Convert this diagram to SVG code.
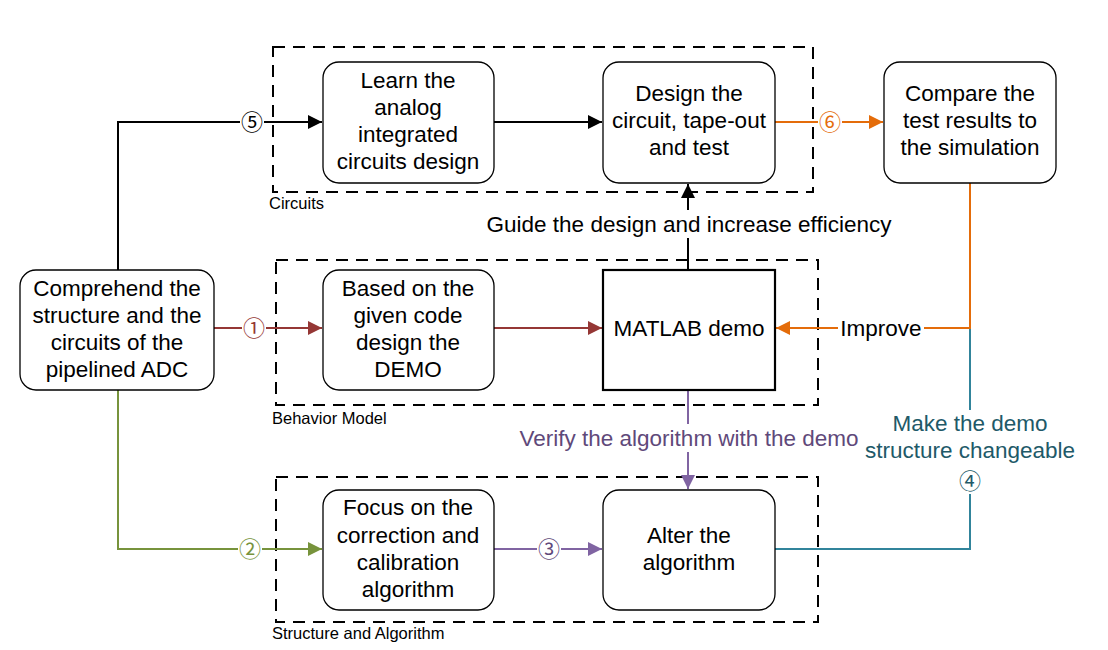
<svg xmlns="http://www.w3.org/2000/svg" width="1108" height="650" viewBox="0 0 1108 650">
<style>
text{font-family:"Liberation Sans",Arial,sans-serif;font-size:22.5px;fill:#000;text-anchor:middle}
.node{fill:#fff;stroke:#000;stroke-width:1.3}
.grp{fill:none;stroke:#000;stroke-width:2;stroke-dasharray:12 8}
.small{font-size:16.5px;text-anchor:start}
.num{font-family:"Noto Sans CJK SC","DejaVu Sans",sans-serif;font-size:22px}
.ln{fill:none;stroke-width:2}
.bg{fill:#fff;stroke:none}
</style>
<defs>
<marker id="aK" viewBox="0 0 10 10" refX="10" refY="5" markerWidth="14" markerHeight="14" markerUnits="userSpaceOnUse" orient="auto"><path d="M0,0L10,5L0,10z" fill="#000"/></marker>
<marker id="aR" viewBox="0 0 10 10" refX="10" refY="5" markerWidth="14" markerHeight="14" markerUnits="userSpaceOnUse" orient="auto"><path d="M0,0L10,5L0,10z" fill="#953735"/></marker>
<marker id="aO" viewBox="0 0 10 10" refX="10" refY="5" markerWidth="14" markerHeight="14" markerUnits="userSpaceOnUse" orient="auto"><path d="M0,0L10,5L0,10z" fill="#E46C0A"/></marker>
<marker id="aG" viewBox="0 0 10 10" refX="10" refY="5" markerWidth="14" markerHeight="14" markerUnits="userSpaceOnUse" orient="auto"><path d="M0,0L10,5L0,10z" fill="#77933C"/></marker>
<marker id="aP" viewBox="0 0 10 10" refX="10" refY="5" markerWidth="14" markerHeight="14" markerUnits="userSpaceOnUse" orient="auto"><path d="M0,0L10,5L0,10z" fill="#8064A2"/></marker>
</defs>

<g id="groups">
<rect class="grp" x="273" y="47" width="540" height="145"/>
<text class="small" x="269" y="209">Circuits</text>
<rect class="grp" x="276" y="260" width="542" height="145"/>
<text class="small" x="272" y="424">Behavior Model</text>
<rect class="grp" x="276" y="477" width="542" height="145"/>
<text class="small" x="272" y="639">Structure and Algorithm</text>
</g>

<g id="connectors">
<path class="ln" stroke="#000" d="M118,270V122H322" marker-end="url(#aK)"/>
<path class="ln" stroke="#000" d="M494,122H602" marker-end="url(#aK)"/>
<path class="ln" stroke="#E46C0A" d="M775,122H883" marker-end="url(#aO)"/>
<path class="ln" stroke="#31849B" d="M775,549H970V329"/>
<path class="ln" stroke="#E46C0A" d="M970,183V328H776" marker-end="url(#aO)"/>
<path class="ln" stroke="#953735" d="M214,328H322" marker-end="url(#aR)"/>
<path class="ln" stroke="#953735" d="M494,328H602" marker-end="url(#aR)"/>
<path class="ln" stroke="#000" d="M688,270V184" marker-end="url(#aK)"/>
<path class="ln" stroke="#8064A2" d="M688,390V489" marker-end="url(#aP)"/>
<path class="ln" stroke="#77933C" d="M118,390V549H322" marker-end="url(#aG)"/>
<path class="ln" stroke="#8064A2" d="M494,549H602" marker-end="url(#aP)"/>

<rect class="bg" x="240" y="110" width="24" height="24"/>
<text class="num" x="252" y="130">⑤</text>
<rect class="bg" x="818" y="110" width="24" height="24"/>
<text class="num" x="830" y="130" style="fill:#E46C0A">⑥</text>
<rect class="bg" x="242" y="316" width="24" height="24"/>
<text class="num" x="254" y="336" style="fill:#953735">①</text>
<rect class="bg" x="238" y="537" width="24" height="24"/>
<text class="num" x="250" y="557" style="fill:#77933C">②</text>
<rect class="bg" x="537" y="537" width="24" height="24"/>
<text class="num" x="549" y="557" style="fill:#5F497A">③</text>

<rect class="bg" x="484" y="210" width="410" height="28"/>
<text x="689" y="232">Guide the design and increase efficiency</text>
<rect class="bg" x="838" y="315" width="86" height="28"/>
<text x="881" y="336">Improve</text>
<rect class="bg" x="516" y="424" width="346" height="28"/>
<text x="689" y="446" style="fill:#5F497A">Verify the algorithm with the demo</text>
<rect class="bg" x="862" y="410" width="216" height="84"/>
<text x="970" y="431" style="fill:#215968">Make the demo</text>
<text x="970" y="458" style="fill:#215968">structure changeable</text>
<text class="num" x="970" y="489" style="fill:#215968">④</text>
</g>

<g id="n-comprehend">
<rect class="node" x="20" y="270" width="194" height="120" rx="16"/>
<text x="117" y="296">Comprehend the</text>
<text x="117" y="323">structure and the</text>
<text x="117" y="350">circuits of the</text>
<text x="117" y="377">pipelined ADC</text>
</g>
<g id="n-learn">
<rect class="node" x="323" y="62" width="171" height="121" rx="16"/>
<text x="408" y="88">Learn the</text>
<text x="408" y="115">analog</text>
<text x="408" y="142">integrated</text>
<text x="408" y="169">circuits design</text>
</g>
<g id="n-design">
<rect class="node" x="603" y="62" width="172" height="121" rx="16"/>
<text x="689" y="101">Design the</text>
<text x="689" y="128">circuit, tape-out</text>
<text x="689" y="155">and test</text>
</g>
<g id="n-compare">
<rect class="node" x="884" y="62" width="172" height="121" rx="16"/>
<text x="970" y="101">Compare the</text>
<text x="970" y="128">test results to</text>
<text x="970" y="155">the simulation</text>
</g>
<g id="n-based">
<rect class="node" x="323" y="270" width="171" height="120" rx="16"/>
<text x="408" y="296">Based on the</text>
<text x="408" y="323">given code</text>
<text x="408" y="350">design the</text>
<text x="408" y="377">DEMO</text>
</g>
<g id="n-matlab">
<rect x="603" y="270" width="172" height="120" fill="#fff" stroke="#000" stroke-width="2.2"/>
<text x="689" y="336">MATLAB demo</text>
</g>
<g id="n-focus">
<rect class="node" x="323" y="490" width="171" height="120" rx="16"/>
<text x="408" y="515">Focus on the</text>
<text x="408" y="543">correction and</text>
<text x="408" y="570">calibration</text>
<text x="408" y="597">algorithm</text>
</g>
<g id="n-alter">
<rect class="node" x="603" y="490" width="172" height="120" rx="16"/>
<text x="689" y="543">Alter the</text>
<text x="689" y="570">algorithm</text>
</g>
</svg>
